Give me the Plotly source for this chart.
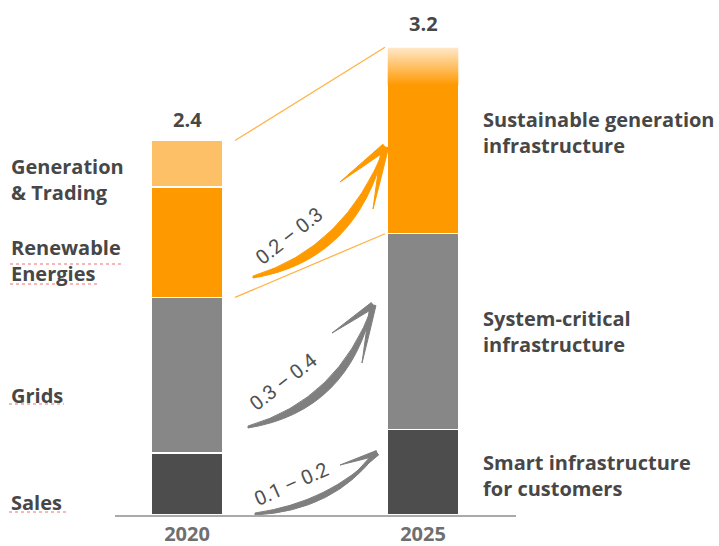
import plotly.graph_objects as go

# ---------------- data ----------------
YEARS = ["2020", "2025"]
TOTAL_LABELS = ["2.4", "3.2"]

SEG_2020 = ["Sales", "Grids", "Renewable Energies", "Generation & Trading"]
VAL_2020 = [0.40, 1.00, 0.71, 0.30]

SEG_2025 = ["Smart infrastructure for customers", "System-critical infrastructure",
            "Sustainable generation infrastructure"]
VAL_2025 = [0.55, 1.26, 1.20]

GROWTH_LABELS = ["0.1 – 0.2", "0.3 – 0.4", "0.2 – 0.3"]

# ---------------- styles ----------------
C_2020 = ["#4d4d4d", "#878787", "#ff9900", "#fdc067"]
C_2025 = ["#4d4d4d", "#878787", "#ff9900"]
TXT = "#474747"
FONT = "Open Sans"

W, H = 719, 546
L_PX, R_PX, T_PX, B_PX = 115, 516, 10, 515
XC0, DX = 187.0, 236.0       # pixel centre of first bar, pixel distance between bars
PY = 155.4                   # pixels per value unit
BAR_W = 72 / DX

def X(px):
    return (px - XC0) / DX

def Y(py):
    return (B_PX - py) / PY

def PXX(px):  # paper x
    return (px - L_PX) / (R_PX - L_PX)

fig = go.Figure()

for name, v, c in zip(SEG_2020, VAL_2020, C_2020):
    fig.add_trace(go.Bar(x=[0], y=[v], name=name, width=BAR_W,
                         marker=dict(color=c, line=dict(color="white", width=1.5))))
for name, v, c in zip(SEG_2025, VAL_2025, C_2025):
    fig.add_trace(go.Bar(x=[1], y=[v], name=name, width=BAR_W,
                         marker=dict(color=c, line=dict(color="white", width=1.5))))

tot20 = sum(VAL_2020)
tot25 = sum(VAL_2025)

# gradient fade at top of 2025 bar
g = 38 / PY
fig.add_trace(go.Scatter(
    x=[1 - BAR_W / 2 + 0.003, 1 + BAR_W / 2 - 0.003, 1 + BAR_W / 2 - 0.003, 1 - BAR_W / 2 + 0.003],
    y=[tot25 - g, tot25 - g, tot25 - 0.004, tot25 - 0.004],
    mode="lines", line=dict(width=0), fill="toself",
    fillgradient=dict(type="vertical", start=tot25 - g, stop=tot25,
                      colorscale=[[0, "#ff9900"], [1, "#ffe9cc"]]),
    hoverinfo="skip", showlegend=False))

# connector lines
x_a = X(235)
x_b = X(385)
for y0, y1 in [(tot20, tot25), (sum(VAL_2020[:2]), sum(VAL_2025[:2]))]:
    fig.add_shape(type="line", x0=x_a, y0=y0, x1=x_b, y1=y1,
                  line=dict(color="#ffb347", width=1.3))

# curved hand-drawn arrows
def arrow(tail, ctrl, tip, barb1, barb2, color, thick, bthick):
    (tx, ty), (cx, cy), (px, py) = tail, ctrl, tip
    dxp, dyp = px - tx, py - ty
    n = (dxp ** 2 + dyp ** 2) ** 0.5
    nx, ny = -dyp / n, dxp / n
    if ny < 0:
        nx, ny = -nx, -ny
    c2 = (cx + nx * thick, cy + ny * thick)
    path = (f"M{X(tx)},{Y(ty)} Q{X(cx)},{Y(cy)} {X(px)},{Y(py)} "
            f"Q{X(c2[0])},{Y(c2[1])} {X(tx)},{Y(ty + 2)} Z")
    fig.add_shape(type="path", path=path, fillcolor=color, line=dict(color=color, width=1))
    for bx, by in (barb1, barb2):
        ddx, ddy = bx - px, by - py
        m = (ddx ** 2 + ddy ** 2) ** 0.5
        ox, oy = -ddy / m * bthick / 2, ddx / m * bthick / 2
        p = (f"M{X(px + ox)},{Y(py + oy)} L{X(px - ox)},{Y(py - oy)} "
             f"Q{X((px + bx) / 2 - ox * 0.6)},{Y((py + by) / 2 - oy * 0.6)} {X(bx)},{Y(by)} Z")
        fig.add_shape(type="path", path=p, fillcolor=color, line=dict(color=color, width=1))

arrow((253, 276), (345, 248), (385, 147), (340, 182), (373, 209), "#ff9900", 18, 7)
arrow((248, 426), (338, 400), (373, 305), (332, 333), (362, 363), "#7f7f7f", 16, 6)
arrow((255, 513), (330, 502), (377, 453), (340, 465), (352, 477), "#7f7f7f", 10, 5)

# growth labels
for txt, (px, py), ang in zip(GROWTH_LABELS,
                              [(291, 484), (283, 382), (289, 236)],
                              [-24, -38, -38]):
    fig.add_annotation(x=X(px), y=Y(py), text=txt, showarrow=False, textangle=ang,
                       font=dict(family="Roboto", size=20, color="#505050"))

# totals
for xv, tot, lab, off in zip([0, 1], [tot20, tot25], TOTAL_LABELS, [21, 24]):
    fig.add_annotation(x=xv, y=tot, text=f"<b>{lab}</b>", showarrow=False, yshift=off,
                       font=dict(family=FONT, size=20, color=TXT))

# left labels
left_lbls = ["Generation<br>& Trading", "Renewable<br>Energies", "Grids", "Sales"]
left_y = [179.5, 260.5, 395, 502]
for t, py in zip(left_lbls, left_y):
    fig.add_annotation(x=PXX(9), xref="paper", y=Y(py), text=f"<b>{t}</b>", showarrow=False,
                       xanchor="left", align="left",
                       font=dict(family=FONT, size=20, color=TXT))

# spell-check squiggles under some left labels
for x0, x1, py in [(10, 122, 264), (10, 100, 284), (9, 64, 404), (9, 68, 512)]:
    fig.add_shape(type="line", xref="paper", x0=PXX(x0), x1=PXX(x1), y0=Y(py), y1=Y(py),
                  line=dict(color="#f07070", width=1.2, dash="dot"))

right_lbls = ["Sustainable generation<br>infrastructure", "System-critical<br>infrastructure",
              "Smart infrastructure<br>for customers"]
right_y = [132.5, 331, 475.5]
for t, py in zip(right_lbls, right_y):
    fig.add_annotation(x=PXX(481), xref="paper", y=Y(py), text=f"<b>{t}</b>", showarrow=False,
                       xanchor="left", align="left",
                       font=dict(family=FONT, size=20, color=TXT))

fig.update_layout(
    width=W, height=H, barmode="stack", showlegend=False,
    margin=dict(l=L_PX, r=W - R_PX, t=T_PX, b=H - B_PX, autoexpand=False),
    paper_bgcolor="white", plot_bgcolor="white",
    xaxis=dict(range=[X(L_PX), X(R_PX)], tickvals=[0, 1],
               ticktext=[f"<b>{y}</b>" for y in YEARS], automargin=False,
               showline=True, linecolor="#aaaaaa", linewidth=2, showgrid=False,
               zeroline=False, ticks="", 
               tickfont=dict(family=FONT, size=20, color="#6f6f6f"), fixedrange=True),
    yaxis=dict(range=[0, Y(T_PX)], visible=False, fixedrange=True, automargin=False),
)

fig.write_html("out.html", config={"displayModeBar": False},
               post_script="document.body.style.margin='0';document.body.style.overflow='hidden';")
